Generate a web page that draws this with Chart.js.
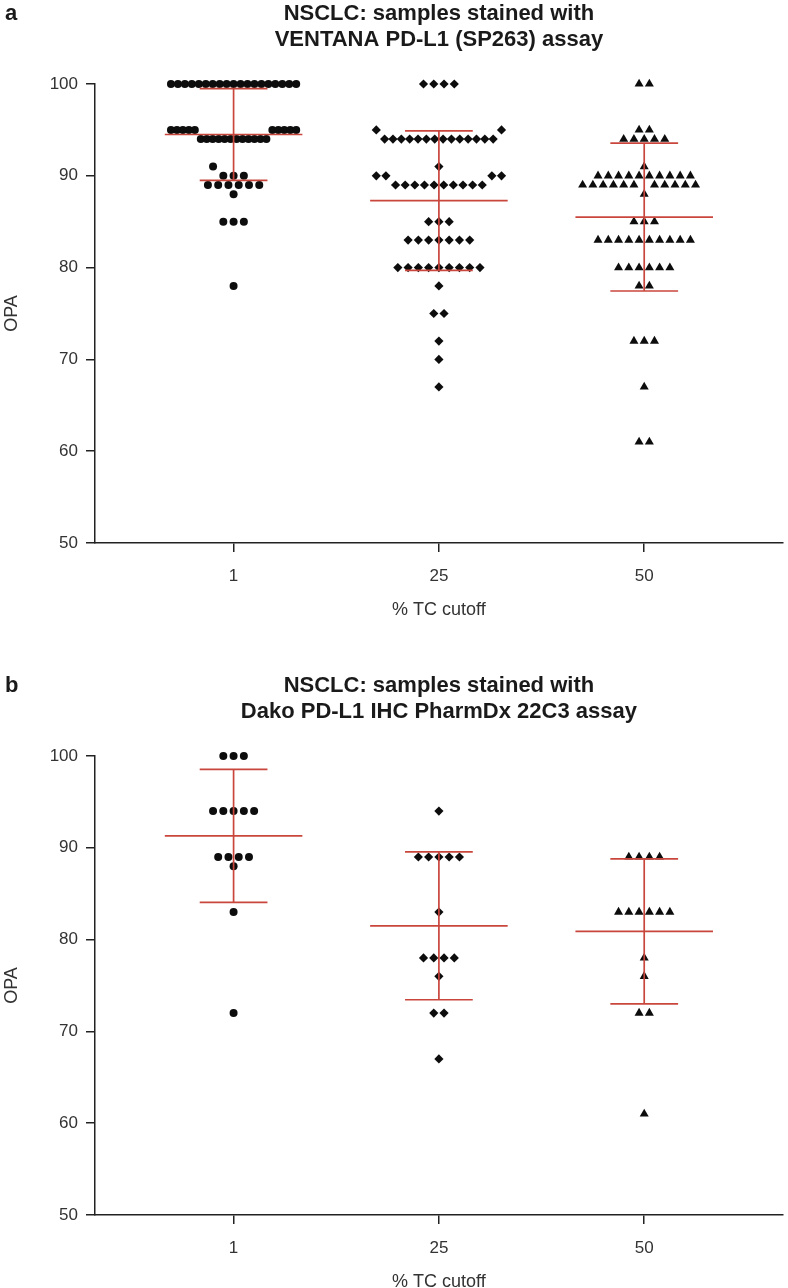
<!DOCTYPE html>
<html>
<head>
<meta charset="utf-8">
<script src="https://cdn.jsdelivr.net/npm/chart.js@4.4.1/dist/chart.umd.min.js"></script>
<style>
  html, body { margin: 0; padding: 0; background: #fff; overflow: hidden; }
  canvas { display: block; }
</style>
</head>
<body>
<canvas id="panel_a" width="788" height="672"></canvas>
<canvas id="panel_b" width="788" height="672"></canvas>
<script>
const cutoffs = ['1', '25', '50'];
const yTicks = [50, 60, 70, 80, 90, 100];

// a: VENTANA PD-L1 (SP263), OPA per sample
const opaA1 = [
    100, 100, 100, 100, 100, 100, 100, 100, 100, 100, 100, 100, 100, 100, 100, 100, 100, 100, 100,
    95, 95, 95, 95, 95, 95, 95, 95, 95, 95,
    94, 94, 94, 94, 94, 94, 94, 94, 94, 94, 94, 94,
    91, 90, 90, 90,
    89, 89, 89, 89, 89, 89, 88,
    85, 85, 85, 78
];
const opaA25 = [
    100, 100, 100, 100,
    95, 95,
    94, 94, 94, 94, 94, 94, 94, 94, 94, 94, 94, 94, 94, 94,
    91, 90, 90, 90, 90,
    89, 89, 89, 89, 89, 89, 89, 89, 89, 89,
    85, 85, 85,
    83, 83, 83, 83, 83, 83, 83,
    80, 80, 80, 80, 80, 80, 80, 80, 80,
    78, 75, 75, 72, 70, 67
];
const opaA50 = [
    100, 100, 95, 95,
    94, 94, 94, 94, 94,
    91, 90, 90, 90, 90, 90, 90, 90, 90, 90, 90,
    89, 89, 89, 89, 89, 89, 89, 89, 89, 89, 89, 88,
    85, 85, 85,
    83, 83, 83, 83, 83, 83, 83, 83, 83, 83,
    80, 80, 80, 80, 80, 80,
    78, 78, 72, 72, 72, 67, 61, 61
];
const meanA = [94.5, 87.3, 85.5];
const sdA = [5.0, 7.6, 8.05];

// b: Dako PD-L1 IHC PharmDx 22C3
const opaB1 = [100, 100, 100, 94, 94, 94, 94, 94, 89, 89, 89, 89, 88, 83, 72];
const opaB25 = [94, 89, 89, 89, 89, 89, 83, 78, 78, 78, 78, 76, 72, 72, 67];
const opaB50 = [89, 89, 89, 89, 83, 83, 83, 83, 83, 83, 78, 76, 72, 72, 61];
const meanB = [91.3, 81.5, 80.9];
const sdB = [7.25, 8.05, 7.9];

const RED = '#c9463d';
const INK = '#0d0d0d';
const SLOT = 0.05;       // horizontal step between dots, in category units
const ROW = 0.9;         // one OPA unit measured in slots
const MAX_SPREAD = 6.1;  // widest spread, in slots
const MEAN_W = 0.335;
const CAP_W = 0.165;
const markers = [
    { pointStyle: 'circle', radius: 4.0 },
    { pointStyle: 'rectRot', radius: 4.6 },
    { pointStyle: 'triangle', radius: 5.2 }
];

// spread equal values sideways like a dot plot
function swarm(values, index) {
    const placed = [];
    const rows = [...new Set(values)].sort((a, b) => a - b);

    rows.forEach(v => {
        const n = values.filter(x => x === v).length;
        const clash = (s, d) => placed.some(p => {
            const dy = Math.abs(p.v - v) * ROW;
            return Math.hypot(p.s - s, dy) < d - 1e-6;
        });
        let slots = Array.from({ length: n }, (_, k) => k - (n - 1) / 2);
        if (slots.some(s => clash(s, 1.0))) {
            slots = [];
            for (let k = 0; slots.length < n; k++) {
                const cands = k === 0 ? [0] : [-k / 2, k / 2];
                cands.forEach(s => {
                    if (slots.length < n && !clash(s, 1.06) && slots.every(t => Math.abs(t - s) >= 1 - 1e-6)) {
                        slots.push(s);
                    }
                });
            }
        }
        slots.forEach(s => placed.push({ v, s }));
    });

    let group = [];
    const squeeze = () => {
        const widest = Math.max(...group.map(p => Math.abs(p.s)));
        const f = widest > MAX_SPREAD ? MAX_SPREAD / widest : 1;
        group.forEach(p => { p.s *= f; });
        group = [];
    };
    placed.forEach(p => {
        if (group.length && p.v - group[group.length - 1].v > 1) squeeze();
        group.push(p);
    });
    squeeze();

    return placed.map(p => ({ x: index + p.s * SLOT, y: p.v }));
}

function errorBars(means, sds) {
    const sets = [];
    means.forEach((m, i) => {
        const lo = m - sds[i];
        const hi = m + sds[i];
        [
            [i - MEAN_W, m, i + MEAN_W, m],
            [i - CAP_W, hi, i + CAP_W, hi],
            [i - CAP_W, lo, i + CAP_W, lo],
            [i, lo, i, hi]
        ].forEach(([x1, y1, x2, y2]) => {
            sets.push({
                data: [{ x: x1, y: y1 }, { x: x2, y: y2 }],
                showLine: true,
                borderColor: RED,
                borderWidth: 1.7,
                pointRadius: 0,
                order: 0
            });
        });
    });
    return sets;
}

const panelText = {
    id: 'panelText',
    afterDraw(chart, args, opts) {
        const { ctx, chartArea } = chart;
        const cx = (chartArea.left + chartArea.right) / 2;
        ctx.save();
        ctx.fillStyle = '#1a1a1a';
        ctx.textBaseline = 'middle';
        ctx.font = 'bold 22px "Liberation Sans", Arial, sans-serif';
        ctx.textAlign = 'left';
        ctx.fillText(opts.letter, 5, 14);
        ctx.textAlign = 'center';
        opts.title.forEach((line, i) => ctx.fillText(line, cx, 14 + i * 26));
        ctx.fillStyle = '#333';
        ctx.font = '18px "Liberation Sans", Arial, sans-serif';
        ctx.fillText('% TC cutoff', cx, chartArea.bottom + 67);
        ctx.translate(12, (chartArea.top + chartArea.bottom) / 2);
        ctx.rotate(-Math.PI / 2);
        ctx.fillText('OPA', 0, 0);
        ctx.restore();
    }
};

function drawPanel(id, letter, title, groups, means, sds) {
    const datasets = errorBars(means, sds);
    groups.forEach((values, i) => {
        datasets.push({
            data: swarm(values, i),
            pointStyle: markers[i].pointStyle,
            pointRadius: markers[i].radius,
            pointBackgroundColor: INK,
            pointBorderWidth: 0,
            clip: false,
            order: 1
        });
    });

    new Chart(document.getElementById(id), {
        type: 'scatter',
        data: { datasets },
        plugins: [panelText],
        options: {
            responsive: false,
            animation: false,
            layout: { padding: { top: 84, left: 0, right: 0, bottom: 0 } },
            plugins: {
                legend: { display: false },
                tooltip: { enabled: false },
                panelText: { letter, title }
            },
            scales: {
                x: {
                    type: 'linear',
                    min: -0.675,
                    max: 2.675,
                    afterBuildTicks: s => { s.ticks = [0, 1, 2].map(v => ({ value: v })); },
                    afterFit: s => { s.height = 129; },
                    ticks: {
                        callback: v => cutoffs[v],
                        color: '#333',
                        padding: 14,
                        font: { size: 17 }
                    },
                    grid: { drawOnChartArea: false, tickLength: 9, color: '#222', lineWidth: 1.5 },
                    border: { color: '#222', width: 1.5 }
                },
                y: {
                    min: 50,
                    max: 100,
                    afterBuildTicks: s => { s.ticks = yTicks.map(v => ({ value: v })); },
                    afterFit: s => { s.width = 95; },
                    ticks: { color: '#333', padding: 8, font: { size: 17 } },
                    grid: { drawOnChartArea: false, tickLength: 9, color: '#222', lineWidth: 1.5 },
                    border: { color: '#222', width: 1.5 }
                }
            }
        }
    });
}

Chart.defaults.font.family = '"Liberation Sans", Arial, sans-serif';

drawPanel('panel_a', 'a', ['NSCLC: samples stained with', 'VENTANA PD-L1 (SP263) assay'],
    [opaA1, opaA25, opaA50], meanA, sdA);
drawPanel('panel_b', 'b', ['NSCLC: samples stained with', 'Dako PD-L1 IHC PharmDx 22C3 assay'],
    [opaB1, opaB25, opaB50], meanB, sdB);
</script>
</body>
</html>
